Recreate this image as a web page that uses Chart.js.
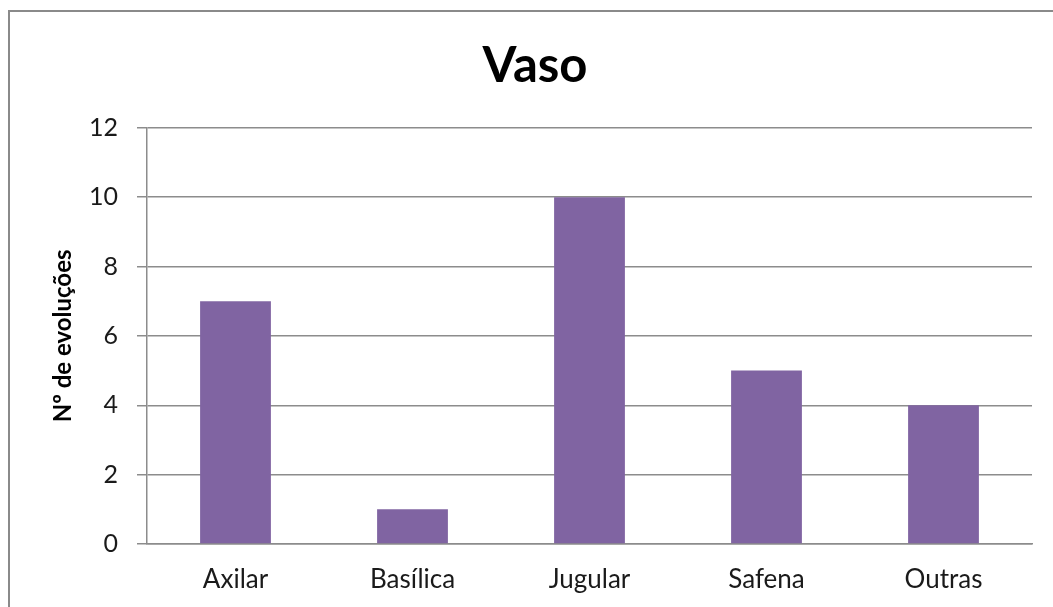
<!DOCTYPE html>
<html>
<head>
<meta charset="utf-8">
<script src="https://cdn.jsdelivr.net/npm/chart.js@4"></script>
<style>
  html, body { margin: 0; padding: 0; background: #fff; overflow: hidden; }
  #wrap { position: relative; width: 1053px; height: 607px; }
  #frame {
    position: absolute; left: 8px; top: 10px; width: 1100px; height: 700px;
    border: 2px solid #8a8a8a; pointer-events: none;
  }
</style>
</head>
<body>
<div id="wrap">
  <canvas id="myChart" width="1053" height="607"></canvas>
  <div id="frame"></div>
</div>
<script>
// Vaso chart data
const categories = ["Axilar", "Basílica", "Jugular", "Safena", "Outras"];
const evolucoes = [7, 1, 10, 5, 4];
const yTicks = [0, 2, 4, 6, 8, 10, 12];

const gridColor = "#8c8c8c";

chartIt();

function chartIt() {
  const ctx = document.getElementById("myChart");

  new Chart(ctx, {
    type: "bar",
    data: {
      labels: categories,
      datasets: [
        {
          label: "Vaso",
          data: evolucoes,
          backgroundColor: "#8064a2",
          borderWidth: 0,
          barPercentage: 0.4,
          categoryPercentage: 1,
        },
      ],
    },
    options: {
      responsive: false,
      animation: false,
      layout: { padding: { left: 38, right: 21, top: 0, bottom: 0 } },
      plugins: {
        legend: { display: false },
        tooltip: { enabled: false },
        title: {
          display: true,
          text: "Vaso",
          color: "#000",
          font: { family: "Lato", size: 49, weight: "bold", lineHeight: 1.2 },
          padding: { top: 37, bottom: 32 },
        },
      },
      scales: {
        x: {
          grid: { display: false, drawTicks: false },
          border: { display: true, color: gridColor, width: 1.5 },
          ticks: {
            color: "#1a1a1a",
            font: { family: "Lato", size: 26 },
            padding: 20,
            maxRotation: 0,
          },
          afterFit: (scale) => {
            scale.height = 63;
          },
        },
        y: {
          min: 0,
          max: 12,
          afterBuildTicks: (scale) => {
            scale.ticks = yTicks.map((v) => ({ value: v }));
          },
          grid: {
            color: gridColor,
            lineWidth: 1.5,
            tickLength: 10,
            drawTicks: true,
          },
          border: { display: true, color: gridColor, width: 1.5 },
          ticks: {
            color: "#1a1a1a",
            font: { family: "Lato", size: 25 },
            padding: 19,
          },
          title: {
            display: true,
            text: "Nº de evoluções",
            color: "#000",
            font: { family: "Lato", size: 24, weight: "bold", lineHeight: 1.2 },
            padding: { top: 11, bottom: 0 },
          },
          afterFit: (scale) => {
            scale.width = 109;
          },
        },
      },
    },
  });
}
</script>
</body>
</html>
